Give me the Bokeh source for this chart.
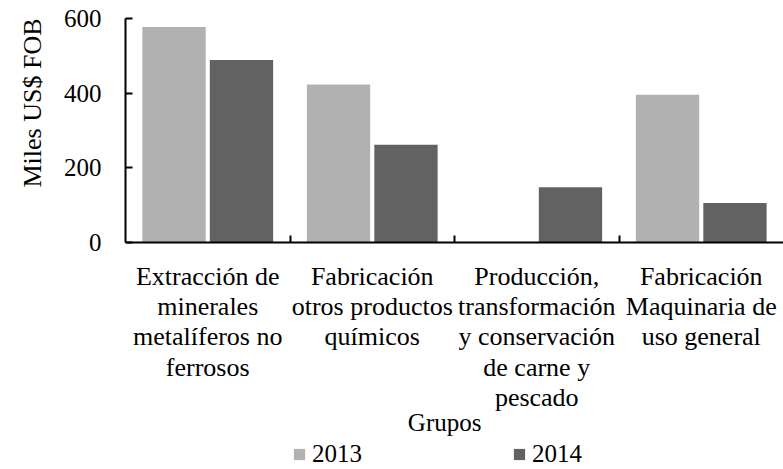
from bokeh.plotting import figure
from bokeh.models import (FactorRange, Range1d, LinearAxis, FixedTicker, Label,
                          Legend, LegendItem, Title)
from bokeh.transform import dodge
from bokeh.embed import file_html
from bokeh.resources import INLINE

categories = [
    "Extracción de\nminerales\nmetalíferos no\nferrosos",
    "Fabricación\notros productos\nquímicos",
    "Producción,\ntransformación\ny conservación\nde carne y\npescado",
    "Fabricación\nMaquinaria de\nuso general",
]
series_names = ["2013", "2014"]
values_2013 = [577, 423, 0, 396]
values_2014 = [489, 262, 148, 106]
y_ticks = [0, 200, 400, 600]
y_title = "Miles US$ FOB"
x_title = "Grupos"

colors = {"2013": "#b1b1b1", "2014": "#626262"}
FONT = "Liberation Serif"

data = dict(cat=categories, v2013=values_2013, v2014=values_2014)

# frame spans the whole lower part so that labels/legend live inside it
p = figure(width=783, height=469, x_range=FactorRange(*categories, range_padding=0),
           y_range=Range1d(-608, 600), output_backend="svg", toolbar_location=None,
           min_border_left=125, min_border_right=0, min_border_top=18,
           min_border_bottom=0)
p.outline_line_color = None
p.grid.visible = False

r13 = p.vbar(x=dodge("cat", -0.205, range=p.x_range), top="v2013", width=0.385,
             source=data, fill_color=colors["2013"], line_color=None)
r14 = p.vbar(x=dodge("cat", 0.205, range=p.x_range), top="v2014", width=0.385,
             source=data, fill_color=colors["2014"], line_color=None)

# category labels, drawn at y = 0
xa = p.xaxis[0]
xa.fixed_location = 0
xa.axis_line_color = None
xa.major_tick_line_color = None
xa.minor_tick_line_color = None
xa.major_label_text_font = FONT
xa.major_label_text_font_size = "26px"
xa.major_label_text_line_height = 1.05
xa.major_label_text_color = "black"
xa.major_label_standoff = 13

# axis line with ticks at category boundaries (synthetic coordinates)
bax = LinearAxis(ticker=FixedTicker(ticks=list(range(1, len(categories)))),
                 fixed_location=0)
bax.major_label_text_font_size = "0px"
bax.major_tick_in = 7
bax.major_tick_out = 0
bax.minor_tick_line_color = None
bax.axis_line_width = 2
bax.major_tick_line_width = 2
bax.axis_line_color = "black"
bax.major_tick_line_color = "black"
p.add_layout(bax, "below")

ya = p.yaxis[0]
ya.bounds = (y_ticks[0], y_ticks[-1])
ya.ticker = FixedTicker(ticks=y_ticks)
ya.major_tick_in = 7
ya.major_tick_out = 0
ya.minor_tick_line_color = None
ya.axis_line_width = 2
ya.major_tick_line_width = 2
ya.axis_line_color = "black"
ya.major_tick_line_color = "black"
ya.major_label_text_font = FONT
ya.major_label_text_font_size = "25px"
ya.major_label_text_color = "black"
ya.major_label_standoff = 24

p.add_layout(Title(text=y_title, align="right", text_font=FONT, text_font_size="26px",
                   text_font_style="normal", text_color="black", standoff=27), "left")

p.add_layout(Label(x=1.94, y=-482, text=x_title, text_align="center",
                   text_baseline="alphabetic", text_font=FONT,
                   text_font_size="25px", text_color="black"))

legend = Legend(items=[LegendItem(label=series_names[0], renderers=[r13]),
                       LegendItem(label=series_names[1], renderers=[r14])],
                orientation="horizontal", location=(167, 1))
legend.glyph_width = 14
legend.glyph_height = 14
legend.label_standoff = 6
legend.spacing = 150
legend.padding = 0
legend.margin = 0
legend.border_line_color = None
legend.background_fill_alpha = 0
legend.label_text_font = FONT
legend.label_text_font_size = "25px"
legend.label_text_color = "black"
p.add_layout(legend, "center")

open("out.html", "w").write(file_html(p, INLINE))
